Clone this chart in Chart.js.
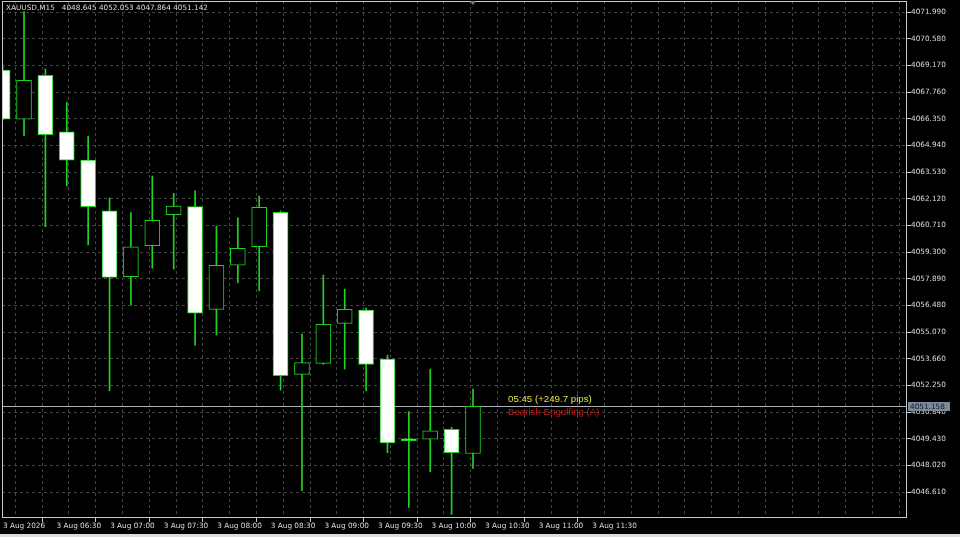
<!DOCTYPE html>
<html>
<head>
<meta charset="utf-8">
<title>XAUUSD,M15</title>
<script src="https://cdn.jsdelivr.net/npm/chart.js@4.4.1/dist/chart.umd.min.js"></script>
<style>
  html, body { margin: 0; padding: 0; background: #000; }
  #wrap { width: 960px; height: 537px; }
</style>
</head>
<body>
<div id="wrap"><canvas id="mt-chart" width="960" height="537"></canvas></div>
<script>
// M15 candles, oldest first (last one is the live bar)
const symbol = "XAUUSD,M15";
const opens  = [4068.92, 4066.32, 4068.64, 4065.65, 4064.16, 4061.48, 4057.99, 4059.63, 4061.27, 4061.70, 4056.27, 4058.60,
                4059.58, 4061.40, 4052.83, 4053.41, 4055.53, 4056.23, 4053.64, 4049.42, 4049.40, 4049.92, 4048.645];
const highs  = [4069.10, 4072.01, 4068.98, 4067.22, 4065.43, 4062.16, 4061.38, 4063.32, 4062.40, 4062.54, 4060.67, 4061.11,
                4062.26, 4061.47, 4054.96, 4058.08, 4057.34, 4056.34, 4053.85, 4050.86, 4053.11, 4050.03, 4052.053];
const lows   = [4066.28, 4065.45, 4060.64, 4062.79, 4059.67, 4051.97, 4056.50, 4058.44, 4058.40, 4054.38, 4054.91, 4057.68,
                4057.25, 4052.00, 4046.68, 4053.36, 4053.11, 4051.95, 4048.69, 4045.80, 4047.68, 4045.43, 4047.864];
const closes = [4066.33, 4068.38, 4065.50, 4064.15, 4061.70, 4057.96, 4059.58, 4060.98, 4061.73, 4056.06, 4058.60, 4059.50,
                4061.66, 4052.76, 4053.45, 4055.48, 4056.27, 4053.35, 4049.20, 4049.33, 4049.84, 4048.69, 4051.142];
const bidPrice = 4051.158;

const priceTicks = ["4071.990", "4070.580", "4069.170", "4067.760", "4066.350", "4064.940", "4063.530",
                    "4062.120", "4060.710", "4059.300", "4057.890", "4056.480", "4055.070", "4053.660",
                    "4052.250", "4050.840", "4049.430", "4048.020", "4046.610"];
const timeLabels = ["3 Aug 2026", "3 Aug 06:30", "3 Aug 07:00", "3 Aug 07:30", "3 Aug 08:00", "3 Aug 08:30",
                    "3 Aug 09:00", "3 Aug 09:30", "3 Aug 10:00", "3 Aug 10:30", "3 Aug 11:00", "3 Aug 11:30"];
const signalLabels = ["05:45 (+249.7 pips)", "Bearish Engulfing (A)"];

// visible window
const yMin = 4045.236, yMax = 4072.572;
const barMin = -0.03, barMax = 42.30;
const gridMax = 33.79;

const C = {
  frame: "#c8c8c8",
  grid: "#444444",
  candle: "#1fd41f",
  bear: "#ffffff",
  bull: "#000000",
  text: "#dcdcdc",
  bid: "#a8b0b8",
  bidBox: "#7b8a99",
  bidText: "#101820",
  yellow: "#e0e048",
  red: "#cc1818",
};
const axisFont = { family: "DejaVu Sans", size: 7.3 };

const idx = opens.map((_, i) => i);
const bodyData = idx.map((i) => ({ x: i, y: [opens[i], closes[i]] }));
const wickData = idx.map((i) => ({ x: i, y: [lows[i], highs[i]] }));
const bodyFill = idx.map((i) => (closes[i] >= opens[i] ? C.bull : C.bear));

// axes must not push the plot area in for overhanging labels
function noLabelPadding(scale) {
  scale.paddingTop = 0;
  scale.paddingBottom = 0;
  scale.paddingLeft = 0;
  scale.paddingRight = 0;
}

const mtOverlay = {
  id: "mtOverlay",
  beforeDatasetsDraw(chart) {
    const { ctx, chartArea: a, scales } = chart;
    const by = Math.round(scales.y.getPixelForValue(bidPrice)) + 0.5;
    ctx.save();
    ctx.strokeStyle = C.bid;
    ctx.lineWidth = 1;
    ctx.beginPath();
    ctx.moveTo(a.left, by);
    ctx.lineTo(a.right, by);
    ctx.stroke();
    ctx.restore();
  },
  afterDraw(chart) {
    const { ctx, chartArea: a, scales } = chart;
    const by = Math.round(scales.y.getPixelForValue(bidPrice)) + 0.5;
    const last = opens.length - 1;
    const lx = scales.x.getPixelForValue(last);
    ctx.save();

    // frame
    ctx.strokeStyle = C.frame;
    ctx.lineWidth = 1;
    ctx.strokeRect(a.left + 0.5, a.top + 0.5, a.right - a.left - 1, a.bottom - a.top - 1);

    // header: symbol + OHLC of the live bar
    ctx.font = '7.3px "DejaVu Sans"';
    ctx.fillStyle = C.text;
    ctx.textBaseline = "middle";
    ctx.textAlign = "left";
    const ohlc = [opens[last], highs[last], lows[last], closes[last]].map((v) => v.toFixed(3)).join(" ");
    ctx.fillText(`${symbol}   ${ohlc}`, a.left + 4, a.top + 7);

    // bid label on the price axis
    ctx.fillStyle = C.bidBox;
    ctx.fillRect(a.right + 1, by - 4.5, 42, 9);
    ctx.fillStyle = C.bidText;
    ctx.fillText(bidPrice.toFixed(3), a.right + 3, by + 0.5);

    // signal texts next to the live bar
    ctx.font = '9.7px "Liberation Sans"';
    ctx.fillStyle = C.yellow;
    ctx.fillText(signalLabels[0], lx + 35, by - 7);
    ctx.fillStyle = C.red;
    ctx.fillText(signalLabels[1], lx + 35, by + 6);

    // chart shift marker
    ctx.fillStyle = "#7a7a7a";
    ctx.beginPath();
    ctx.moveTo(lx - 3, a.top);
    ctx.lineTo(lx + 3, a.top);
    ctx.lineTo(lx, a.top + 4);
    ctx.closePath();
    ctx.fill();

    // window edge
    ctx.fillStyle = "#dcdcdc";
    ctx.fillRect(0, chart.height - 3, chart.width, 3);
    ctx.restore();
  },
};

new Chart(document.getElementById("mt-chart").getContext("2d"), {
  type: "bar",
  data: {
    datasets: [
      {
        data: bodyData,
        backgroundColor: bodyFill,
        borderColor: C.candle,
        borderWidth: 1,
        borderSkipped: false,
        barThickness: 15,
        grouped: false,
        order: 0,
        xAxisID: "x",
        yAxisID: "y",
      },
      {
        data: wickData,
        backgroundColor: C.candle,
        borderWidth: 0,
        barThickness: 1,
        grouped: false,
        order: 1,
        xAxisID: "x",
        yAxisID: "y",
      },
    ],
  },
  options: {
    responsive: false,
    animation: false,
    events: [],
    layout: { padding: { top: 1, left: 2, right: 0, bottom: 0 } },
    plugins: { legend: { display: false }, tooltip: { enabled: false } },
    scales: {
      x: { type: "linear", display: false, min: barMin, max: barMax, offset: false },
      xt: {
        type: "linear",
        position: "bottom",
        min: 0,
        max: gridMax,
        offset: false,
        afterFit(scale) {
          scale.height = 19;
          noLabelPadding(scale);
        },
        afterBuildTicks(scale) {
          const ticks = [];
          for (let k = 0; k <= Math.floor(gridMax); k++) ticks.push({ value: k });
          scale.ticks = ticks;
        },
        grid: {
          color: C.grid,
          drawTicks: true,
          tickLength: 4,
          tickBorderDash: [],
          tickColor: (c) => (c.tick && c.tick.value % 2 === 0 && c.tick.value / 2 < timeLabels.length ? C.frame : "rgba(0,0,0,0)"),
        },
        border: { display: false, dash: [3, 3] },
        ticks: {
          autoSkip: false,
          maxRotation: 0,
          minRotation: 0,
          align: "start",
          labelOffset: 1,
          padding: 0,
          color: C.text,
          font: axisFont,
          callback: (v) => (v % 2 === 0 && timeLabels[v / 2] ? timeLabels[v / 2] : ""),
        },
      },
      y: {
        type: "linear",
        position: "right",
        min: yMin,
        max: yMax,
        afterFit(scale) {
          scale.width = 53;
          noLabelPadding(scale);
        },
        afterBuildTicks(scale) {
          scale.ticks = priceTicks.map((t) => ({ value: parseFloat(t) }));
        },
        grid: { color: C.grid, drawTicks: true, tickLength: 4, tickColor: C.frame, tickBorderDash: [] },
        border: { display: false, dash: [3, 3] },
        ticks: {
          padding: 0,
          color: C.text,
          font: axisFont,
          callback: (v, i) => priceTicks[i],
        },
      },
    },
  },
  plugins: [mtOverlay],
});
</script>
</body>
</html>
